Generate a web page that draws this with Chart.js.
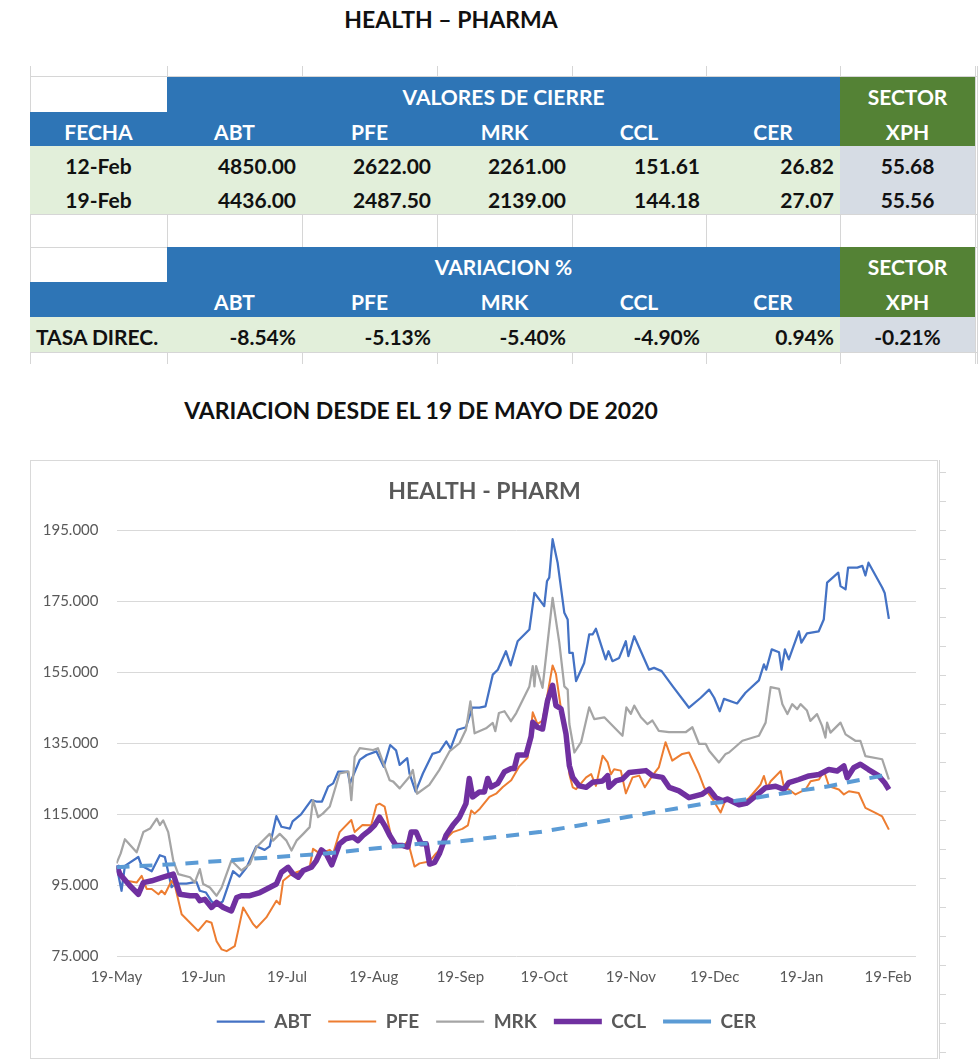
<!DOCTYPE html>
<html>
<head>
<meta charset="utf-8">
<script src="https://cdn.jsdelivr.net/npm/chart.js@4/dist/chart.umd.min.js"></script>
<style>
  html, body { margin:0; padding:0; background:#fff; }
  body { width:980px; height:1059px; position:relative; overflow:hidden; font-family: Lato, "Open Sans", sans-serif; }
  .abs { position:absolute; box-sizing:border-box; }
  .txt { display:flex; align-items:center; font-weight:bold; font-size:21px; white-space:nowrap; padding-top:4px; }
  .big { font-size:23px; padding-top:0; }
  .hdr { color:#fff; }
  .dat { color:#111; }
</style>
</head>
<body>
<div id="page"></div>
<div class="abs" style="left:30px;top:460px;width:908px;height:599px;border:1px solid #d9d9d9;"></div>
<canvas id="c" width="907" height="597" class="abs" style="left:30px;top:460px;"></canvas>
<script>
// ---------- table data ----------
const pageTitle = 'HEALTH \u2013 PHARMA';
const sectionTitle = 'VARIACION DESDE EL 19 DE MAYO DE 2020';
const tickers = ['ABT', 'PFE', 'MRK', 'CCL', 'CER'];
const closeDates = ['12-Feb', '19-Feb'];
const closeFeb12 = ['4850.00', '2622.00', '2261.00', '151.61', '26.82'];
const closeFeb19 = ['4436.00', '2487.50', '2139.00', '144.18', '27.07'];
const xphClose = ['55.68', '55.56'];
const variation = ['-8.54%', '-5.13%', '-5.40%', '-4.90%', '0.94%'];
const xphVariation = '-0.21%';

// ---------- chart data (x = days since 19-May-2020) ----------
const tickDays = [0, 31, 61, 92, 123, 153, 184, 214, 245, 276];
const tickLabels = ['19-May', '19-Jun', '19-Jul', '19-Aug', '19-Sep', '19-Oct', '19-Nov', '19-Dec', '19-Jan', '19-Feb'];

const abtDays = [0,1.8,3,7.8,9,12.6,15.5,17.3,19.7,21,25,28.6,29.8,32,34,35.8,38,41.7,44,46.5,50,53,54.8,57.2,59,62,63,66,69.7,71.5,73.5,75.7,77.5,79.3,82.7,83.5,87,89.5,93,95.6,97.9,100,101.3,104,104.8,107,109.6,113,115.5,118,119.5,122,125,127.3,129.8,132,134.6,136.4,139.3,141,143.5,147.7,149.5,153,154,154.8,156,157.8,160.2,161.4,162,163.2,164.4,167.3,169.1,170.3,171.5,175,176,177.4,179.8,182.2,183.1,185.2,190.5,192.3,195,199,204.8,209,212,213.8,215.8,217.3,222,225,229.8,231.6,232.4,234.4,237,237.9,239.1,240.5,244.1,245,247,251.2,253,254.2,258.2,259,260.8,261.7,265,266.8,267.9,269,273.9,274.8,276.3];
const abtVals = [100.6,93.5,100.5,103,100.5,99,103.5,103,94.5,95.5,95.5,96,93.5,93,90.5,89.5,90.5,99,97.5,100,106,105,106,114.5,111.5,111,113,115,119,118.6,118.6,122.8,123.7,127,127,123.7,130.3,131.7,132.7,128.4,134.5,133,128.9,130.8,126.5,121.4,126.5,132,132.6,135.5,133.5,138.8,139.5,145,145,145.4,154.3,155.7,160.9,156.9,163.7,167,177.3,173.6,180.6,181.6,192.4,185.8,171.7,169.8,160.4,160.4,152.5,157.6,165.6,165.6,167.2,158.6,160.9,158.1,159,163.7,159.5,165.1,155.7,156.2,155.3,151,145,147.8,150.1,147.8,144,147.5,146.2,149.2,152.7,157.2,155.7,161.4,160.6,155.7,161.4,158.6,166.5,163.3,165.9,166.5,169.8,180.2,183,179.2,178.3,184.4,184.4,184.9,182.2,185.8,178.8,177.3,170];

const pfeDays = [0,3.6,7.2,9,10.8,12.6,15,16.1,17.3,19.7,20.9,23.3,26.3,29.2,32.2,34,35.8,37.6,39.4,42.3,43.5,45.3,48.9,50.1,53.6,57.2,58.4,59.6,62.6,66.2,69.1,70.3,72.7,76.3,77.5,79.8,84,85.2,88,91.1,93,94.1,95.9,98.3,100.2,102.4,104.2,106.6,108.4,111.9,114.3,116.7,117.3,120.3,123.7,125.7,126.9,128.1,130,133.4,135.8,138.2,141.2,144.1,147.1,148.9,150.6,152.4,154.2,156,157.2,159,160.8,162,163.2,164.4,168,169.8,171.5,173.9,175.7,176.9,178,180.4,182.2,184.6,187,189,191.7,194,196.4,198.8,202.4,204.8,208.4,210.2,213.2,216.1,218,222.7,226.3,230.4,231.6,232.8,234,237.6,238.8,240.5,242.9,246.5,248.3,251.3,253.1,254.9,258.4,260.2,262,265.5,267.9,271.5,273.9,276.3];
const pfeVals = [100,96.3,95.8,97.7,94,94,92.5,93.5,92.5,96.3,94.9,86.9,84.5,82.2,85,84.5,79.3,77,76.5,77.9,82.2,88.8,84.1,83.1,86,90.7,89.7,96.3,98.2,99.2,100.1,105.3,104,105,104,110,113.4,110,112,111.9,117.6,118,117.2,108.6,105.8,105.8,107.5,100.3,101.2,101.7,104,105.8,107.6,110,110.9,111.9,116.1,115.2,116.6,119.9,120.8,122.7,124.6,128.5,131,143.7,140.4,141.4,148.9,156.9,154.5,144.7,137.6,126.3,122.6,122.1,125.4,126.3,123,131.5,129.6,126.3,127.7,127.3,120.9,125.4,125.9,122.6,125.9,128.2,135.3,130.1,132,132.4,126.3,122.6,119.3,115.5,119.3,117.7,119.6,123.4,125.8,122.5,124.3,127.2,122.5,122,120.6,122,124.3,124.8,127.2,122.9,122,120.6,121.5,121,116.8,115.4,114.4,110.7];

const mrkDays = [0,1.5,3,7.2,9.6,12,14.4,15.5,16.7,18.5,20.3,22.1,26.3,28,29.8,31,33.4,35.8,37.6,41.1,42.9,44.7,47.7,50.1,54.8,56,58.4,60.8,62.6,64.4,66.8,69.1,70.3,72.1,73.8,76.3,79.8,83,84,85.2,87,91.8,93.5,97.7,99,101.3,104.8,106,107.5,111.9,115.5,119.1,122.7,125,126.6,128.1,132.2,134.6,135.5,136.8,138.8,141.1,143,147.7,148.9,149.5,150.1,152.4,156,158.4,160.2,161.4,162,163.8,166.2,169.1,170.9,174.5,178,181,182.4,184,185.2,187.6,189.9,191.7,194,197.6,203.6,206,208.4,210.8,212,215.5,217.9,219.1,223.9,229.8,232.2,234,237,238.2,240,241.7,243.5,244.7,247,248.2,250.6,252.4,253.6,254.2,255.4,259,260.8,264.3,266.1,267.9,273.9,276.3];
const mrkVals = [101.2,104,108,104.3,110,111,113.8,112,113.3,110,102,98.2,97.3,95.8,99.6,95.4,94.4,92.1,94.4,102,100.6,99.2,101,105.8,109.5,107.6,109.5,107.6,104.8,107.6,109.5,111.4,119,114.2,115.2,117.2,126.5,127,119,131.2,133.6,133.1,133.6,124.6,124.2,122.3,125.6,127.5,120.8,123.3,127.5,132.7,135,138.8,146.8,137.8,139.2,140.7,138.4,143.5,144,141.2,143.5,151,156.7,151,156.7,150.6,175.9,163.3,151,150.1,140.4,132.4,135.3,145.1,141.8,142.3,139.5,137.1,145.1,143.3,145.6,142.3,140.4,141.4,138.5,138.1,138.1,139.5,134.8,134.8,132.9,129.6,132,132.4,135.7,137.1,140.8,150.8,150.3,146,143.2,146,144.6,146,144.2,141.3,143.2,139.9,136.6,140.8,138,140.8,137.5,135.7,135.7,131.4,130.5,124.8];

const cclDays = [0,1.2,4.8,7.8,9.6,12.6,16.7,20.3,22.7,26.3,28.6,29.8,31.6,34,35.8,38.2,41.1,43,44.7,47.7,51.3,54.8,57.2,59,61.4,63.2,65,66.8,69.7,71.5,73.3,75,77,79.8,82,84.6,86.4,88.2,90.5,92.3,94.1,95.9,97.7,100,102.4,104.2,105.4,107.2,109,110.8,112,113.8,115.5,117.9,120.3,122.7,125,126.2,127.4,129.8,131.6,132.8,134,136.4,138.8,141.2,142.3,143.5,146.5,148.3,148.9,150.6,152.4,154.2,156,157.2,159,160.8,162,163.2,165.5,168,170.3,173.9,175.7,176.2,178.6,181,183.4,189.4,191.7,195.3,197.7,201.2,204.8,209.6,212,214.4,216.8,218.5,222.7,225.6,228.6,232.2,235.8,238.8,240.5,244.1,247.7,251.3,254.8,257.8,260.2,261.4,263.7,266.1,269,272.7,274.8,276.3];
const cclVals = [100.6,98.2,94.9,92.5,95.8,96.3,97.3,98.2,92.5,92.1,92.1,90.7,91.1,88.8,90.2,88.8,87.8,91.6,92.1,92.1,93,94.4,95.4,98.7,100.1,98.2,97.3,99.2,100.1,102,105,103.9,100.8,106.7,108.1,108.6,107.6,109.1,110.5,111.9,114.2,111.9,109.1,106.2,106.2,105.8,110,110,106.7,106.7,101,101.5,103.9,109.1,111.9,114.2,118,125.1,119.9,121.3,121.3,125.1,122.7,123.7,127,127.9,127.9,131.7,131.7,136.9,140.9,139.5,139,147,151.3,145.6,144.7,137.6,128.7,125.4,123,122.6,124,124.4,125.9,122.6,124.4,124.9,126.8,127.3,125.9,125.4,122.6,121.6,119.7,120.7,122.1,119.7,118.8,119.3,117.7,118.2,120.1,122.5,122.9,122,123.9,124.8,125.8,126.2,127.6,127.2,128.6,125.3,128.1,129.1,127.6,125.8,123.9,122];

const cerDays = [0,21.5,39.3,73.8,108.4,120.3,151.3,168,191.7,209.6,221.5,225,243,254.8,266.7,276.3];
const cerVals = [100.1,101,102,103.9,106.7,107.2,110,112.2,115.5,117.9,118.8,119.2,121.5,122.9,124.8,126.2];

// ---------- page (title + tables) ----------
const page = document.getElementById('page');
function box(x0, y0, x1, y1, style, text, cls, align, pad) {
  const d = document.createElement('div');
  d.className = 'abs' + (cls ? ' txt ' + cls : '');
  d.style.left = x0 + 'px'; d.style.top = y0 + 'px';
  d.style.width = (x1 - x0) + 'px'; d.style.height = (y1 - y0) + 'px';
  if (style) d.style.cssText += style;
  if (text !== undefined) {
    d.textContent = text;
    d.style.justifyContent = align === 'right' ? 'flex-end' : (align === 'left' ? 'flex-start' : 'center');
    if (align === 'right') d.style.paddingRight = (pad || 6) + 'px';
    if (align === 'left') d.style.paddingLeft = (pad || 6) + 'px';
  }
  page.appendChild(d);
  return d;
}
box(0, 5, 902, 32, '', pageTitle, 'dat big', 'center');
box(0, 396, 842, 424, '', sectionTitle, 'dat big', 'center');

const colX = [30, 167, 302, 437, 572, 706, 840, 975];
const rowY = [77, 112, 146, 181, 214, 247, 282, 317, 352];
const gridC = '#d6d6d6';
// sheet gridlines
colX.forEach(x => box(x, 66, x + 1, 364, 'background:' + gridC));
box(977, 66, 978, 364, 'background:' + gridC);
[76, 214, 247, 352].forEach(y => box(30, y, 978, y + 1, 'background:' + gridC));

const BLUE = '#2E75B6', GREEN = '#548235', LGREEN = '#E2EFDA', XGRAY = '#D6DCE4';
function block(top, head1) {
  const y0 = rowY[top], y1 = rowY[top + 1], y2 = rowY[top + 2];
  box(colX[1], y0, colX[6], y1, 'background:' + BLUE, head1, 'hdr', 'center');
  box(colX[6], y0, colX[7], y1, 'background:' + GREEN, 'SECTOR', 'hdr', 'center');
  box(colX[0], y1, colX[6], y2, 'background:' + BLUE);
  box(colX[6], y1, colX[7], y2, 'background:' + GREEN, 'XPH', 'hdr', 'center');
  tickers.forEach((t, i) => box(colX[i + 1], y1, colX[i + 2], y2, '', t, 'hdr', 'center'));
}
block(0, 'VALORES DE CIERRE');
box(colX[0], rowY[1], colX[1], rowY[2], '', 'FECHA', 'hdr', 'center');
[closeFeb12, closeFeb19].forEach((vals, r) => {
  const y0 = rowY[2 + r], y1 = rowY[3 + r];
  box(colX[0], y0, colX[6], y1, 'background:' + LGREEN);
  box(colX[6], y0, colX[7], y1, 'background:' + XGRAY, xphClose[r], 'dat', 'center');
  box(colX[0], y0, colX[1], y1, '', closeDates[r], 'dat', 'center');
  vals.forEach((v, i) => box(colX[i + 1], y0, colX[i + 2], y1, '', v, 'dat', 'right'));
});
block(5, 'VARIACION %');
box(colX[0], rowY[7], colX[6], rowY[8], 'background:' + LGREEN);
box(colX[6], rowY[7], colX[7], rowY[8], 'background:' + XGRAY, xphVariation, 'dat', 'center');
box(colX[0], rowY[7], colX[1] + 20, rowY[8], '', 'TASA DIREC.', 'dat', 'left', 6);
variation.forEach((v, i) => box(colX[i + 1], rowY[7], colX[i + 2], rowY[8], '', v, 'dat', 'right'));

// faint sheet lines to the right of the chart
box(939, 460, 940, 1059, 'background:' + gridC);
for (let y = 472; y < 1059; y += 29) box(939, y, 946, y + 1, 'background:' + gridC);

// ---------- chart ----------
const pts = (xs, ys) => xs.map((x, i) => ({ x: x, y: ys[i] }));
const mk = (label, xs, ys, color, width, order, dash) => ({
  label: label, data: pts(xs, ys), borderColor: color, backgroundColor: color,
  borderWidth: width, pointRadius: 0, tension: 0, order: order,
  borderDash: dash || [], borderJoinStyle: 'round', fill: false
});
const TICK_FONT = { family: 'Lato', size: 15 };
// re-centre title and legend on the whole chart box (the y-axis labels need the left padding)
const recenter = {
  id: 'recenter',
  afterLayout(chart) {
    if (chart.legend) { chart.legend.left += 8.5; chart.legend.right += 8.5; }
    if (chart.titleBlock) { chart.titleBlock.left += 6.5; chart.titleBlock.right += 6.5; }
  }
};
new Chart(document.getElementById('c'), {
  type: 'line',
  plugins: [recenter],
  data: {
    datasets: [
      mk('ABT', abtDays, abtVals, '#4472C4', 2.25, 5),
      mk('PFE', pfeDays, pfeVals, '#ED7D31', 2, 4),
      mk('MRK', mrkDays, mrkVals, '#A5A5A5', 2.25, 3),
      mk('CCL', cclDays, cclVals, '#7030A0', 5.5, 2),
      mk('CER', cerDays, cerVals, '#5B9BD5', 4, 1, [13, 10])
    ]
  },
  options: {
    responsive: false, animation: false, maintainAspectRatio: false,
    layout: { padding: { left: 10, right: 21, top: 0, bottom: 16 } },
    plugins: {
      title: { display: true, text: 'HEALTH - PHARM', color: '#595959',
        font: { family: 'Lato', size: 23, weight: 'bold', lineHeight: 1.2 }, padding: { top: 18.2, bottom: 24.2 } },
      legend: { position: 'bottom',
        labels: { usePointStyle: true, pointStyle: 'line', pointStyleWidth: 48, color: '#595959',
          font: { family: 'Lato', size: 19, weight: 'bold' }, padding: 17,
          sort: (a, b) => a.datasetIndex - b.datasetIndex } },
      tooltip: { enabled: false }
    },
    scales: {
      x: { type: 'linear', min: 0, max: 286,
        grid: { display: false, drawTicks: false }, border: { display: false },
        afterBuildTicks: s => { s.ticks = tickDays.map(v => ({ value: v })); },
        ticks: { autoSkip: false, maxRotation: 0, color: '#595959', font: TICK_FONT, padding: 11.5,
          callback: v => tickLabels[tickDays.indexOf(v)] },
        afterFit: s => { s.height = 38.5; } },
      y: { min: 75, max: 195,
        grid: { color: '#d9d9d9', drawTicks: false }, border: { display: false },
        ticks: { stepSize: 20, color: '#595959', font: TICK_FONT, padding: 18,
          callback: v => v.toFixed(3) },
        afterFit: s => { s.width = 76.5; } }
    }
  }
});
</script>
</body>
</html>
